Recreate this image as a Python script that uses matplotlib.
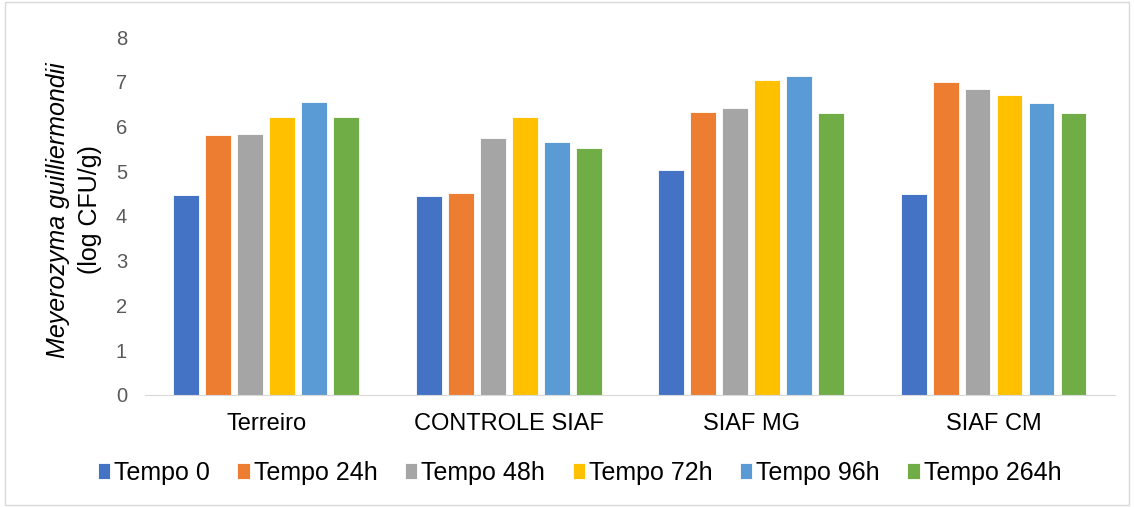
import matplotlib.pyplot as plt
import numpy as np
from matplotlib.patches import Rectangle

plt.rcParams["font.family"] = ["Liberation Sans", "DejaVu Sans"]

categories = ["Terreiro", "CONTROLE SIAF", "SIAF MG", "SIAF CM"]
series_names = ["Tempo 0", "Tempo 24h", "Tempo 48h", "Tempo 72h", "Tempo 96h", "Tempo 264h"]
tempo_0 = [4.47, 4.45, 5.03, 4.49]
tempo_24h = [5.81, 4.51, 6.32, 6.99]
tempo_48h = [5.83, 5.74, 6.41, 6.84]
tempo_72h = [6.21, 6.21, 7.04, 6.70]
tempo_96h = [6.55, 5.65, 7.13, 6.53]
tempo_264h = [6.21, 5.52, 6.30, 6.30]
colors = ["#4472C4", "#ED7D31", "#A5A5A5", "#FFC000", "#5B9BD5", "#70AD47"]

series = [tempo_0, tempo_24h, tempo_48h, tempo_72h, tempo_96h, tempo_264h]

fig = plt.figure(figsize=(11.34, 5.07), dpi=100)
ax = fig.add_axes([0.128, 0.221, 0.855, 0.706])

x = np.arange(len(categories))
step = 0.132
width = 0.107
for i, (vals, name, c) in enumerate(zip(series, series_names, colors)):
    ax.bar(x + (i - 2.5) * step, vals, width, color=c, label=name,
           edgecolor="white", linewidth=0.6)

ax.set_xlim(-0.5, len(categories) - 0.5)
ax.set_ylim(0, 8)
ax.set_yticks(range(0, 9))
ax.set_xticks(x)
ax.set_xticklabels(categories)
ax.tick_params(axis="both", length=0, labelsize=14.5, colors="#595959")
ax.tick_params(axis="x", labelcolor="black", labelsize=17, pad=13)
ax.tick_params(axis="y", pad=13)
for s in ["top", "right", "left"]:
    ax.spines[s].set_visible(False)
ax.spines["bottom"].set_color("#D9D9D9")

fig.text(0.051, 0.586, "Meyerozyma guilliermondii", rotation=90, style="italic",
         fontsize=18, ha="center", va="center")
fig.text(0.079, 0.586, "(log CFU/g)", rotation=90, fontsize=18,
         ha="center", va="center")

fig.legend(loc="center", bbox_to_anchor=(0.511, 0.067), ncol=6, frameon=False,
           fontsize=18, handlelength=0.5, handleheight=0.6, handletextpad=0.15,
           columnspacing=1.1)

fig.patches.append(Rectangle((0.004, 0.004), 0.992, 0.992, transform=fig.transFigure,
                             fill=False, edgecolor="#D9D9D9", linewidth=1))

fig.savefig("out.png", dpi=100)
